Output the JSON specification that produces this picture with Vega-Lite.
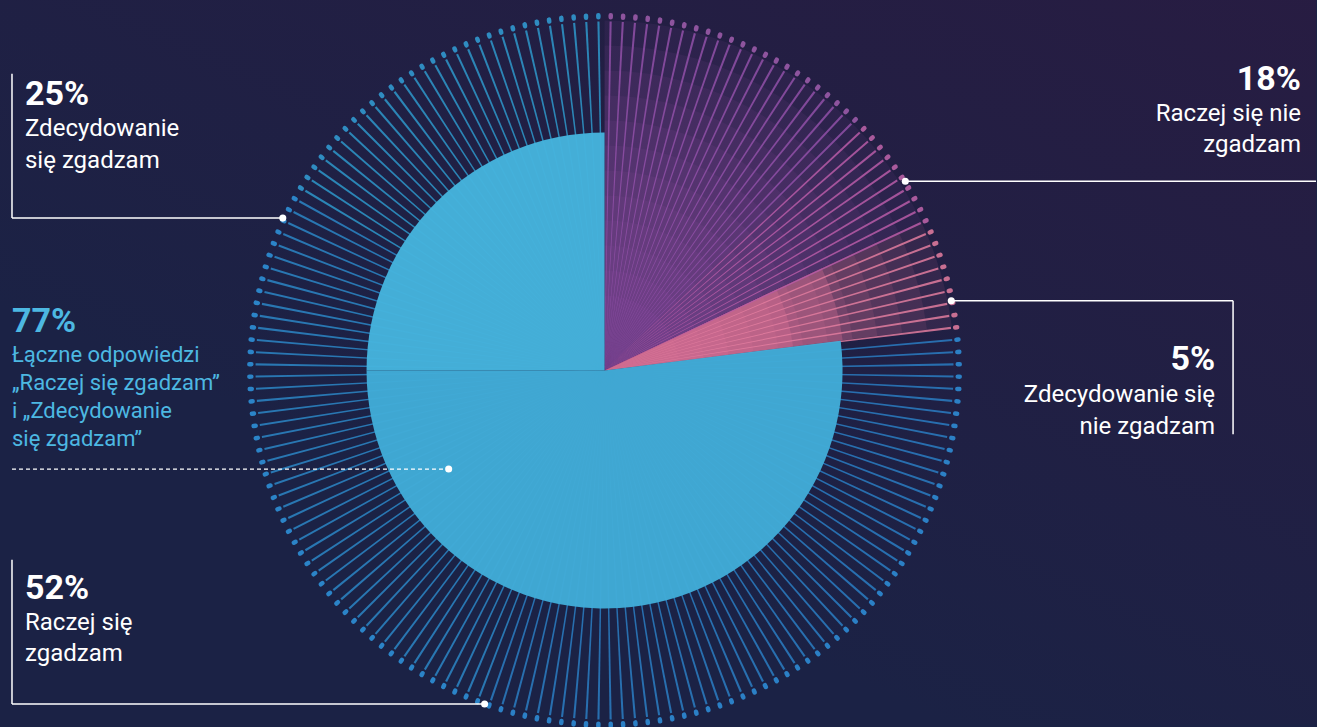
{
  "$schema": "https://vega.github.io/schema/vega-lite/v6.json",
  "width": 1317,
  "height": 727,
  "padding": 0,
  "autosize": {"type": "fit", "contains": "padding"},
  "background": "#1b2245",
  "config": {
    "view": {"stroke": null},
    "axis": {"disable": true},
    "legend": {"disable": true},
    "font": "Roboto"
  },
  "datasets": {
    "slices": [
      {"cat": "Raczej się nie zgadzam", "v": 18, "o": 1},
      {"cat": "Zdecydowanie się nie zgadzam", "v": 5, "o": 2},
      {"cat": "Raczej się zgadzam", "v": 52, "o": 3},
      {"cat": "Zdecydowanie się zgadzam", "v": 25, "o": 4}
    ],
    "rays": [
      {"i":0},{"i":1},{"i":2},{"i":3},{"i":4},{"i":5},{"i":6},{"i":7},{"i":8},{"i":9},
      {"i":10},{"i":11},{"i":12},{"i":13},{"i":14},{"i":15},{"i":16},{"i":17},{"i":18},{"i":19},
      {"i":20},{"i":21},{"i":22},{"i":23},{"i":24},{"i":25},{"i":26},{"i":27},{"i":28},{"i":29},
      {"i":30},{"i":31},{"i":32},{"i":33},{"i":34},{"i":35},{"i":36},{"i":37},{"i":38},{"i":39},
      {"i":40},{"i":41},{"i":42},{"i":43},{"i":44},{"i":45},{"i":46},{"i":47},{"i":48},{"i":49},
      {"i":50},{"i":51},{"i":52},{"i":53},{"i":54},{"i":55},{"i":56},{"i":57},{"i":58},{"i":59},
      {"i":60},{"i":61},{"i":62},{"i":63},{"i":64},{"i":65},{"i":66},{"i":67},{"i":68},{"i":69},
      {"i":70},{"i":71},{"i":72},{"i":73},{"i":74},{"i":75},{"i":76},{"i":77},{"i":78},{"i":79},
      {"i":80},{"i":81},{"i":82},{"i":83},{"i":84},{"i":85},{"i":86},{"i":87},{"i":88},{"i":89},
      {"i":90},{"i":91},{"i":92},{"i":93},{"i":94},{"i":95},{"i":96},{"i":97},{"i":98},{"i":99},
      {"i":100},{"i":101},{"i":102},{"i":103},{"i":104},{"i":105},{"i":106},{"i":107},{"i":108},{"i":109},
      {"i":110},{"i":111},{"i":112},{"i":113},{"i":114},{"i":115},{"i":116},{"i":117},{"i":118},{"i":119},
      {"i":120},{"i":121},{"i":122},{"i":123},{"i":124},{"i":125},{"i":126},{"i":127},{"i":128},{"i":129},
      {"i":130},{"i":131},{"i":132},{"i":133},{"i":134},{"i":135},{"i":136},{"i":137},{"i":138},{"i":139},
      {"i":140},{"i":141},{"i":142},{"i":143},{"i":144},{"i":145},{"i":146},{"i":147},{"i":148},{"i":149},
      {"i":150},{"i":151},{"i":152},{"i":153},{"i":154},{"i":155},{"i":156},{"i":157},{"i":158},{"i":159},
      {"i":160},{"i":161},{"i":162},{"i":163},{"i":164},{"i":165},{"i":166},{"i":167},{"i":168},{"i":169},
      {"i":170},{"i":171},{"i":172},{"i":173},{"i":174},{"i":175},{"i":176},{"i":177},{"i":178},{"i":179}
    ],
    "notes": [
      {"k": "a", "pct": "25%", "txt": "Zdecydowanie\nsię zgadzam"},
      {"k": "t", "pct": "77%", "txt": "Łączne odpowiedzi\n„Raczej się zgadzam”\ni „Zdecydowanie\nsię zgadzam”"},
      {"k": "r", "pct": "52%", "txt": "Raczej się\nzgadzam"},
      {"k": "n", "pct": "18%", "txt": "Raczej się nie\nzgadzam"},
      {"k": "z", "pct": "5%", "txt": "Zdecydowanie się\nnie zgadzam"}
    ]
  },
  "layer": [
    {
      "data": {"values": [{}]},
      "mark": {
        "type": "rect",
        "fill": {
          "gradient": "linear", "x1": 0.4, "y1": 0.75, "x2": 1, "y2": 0,
          "stops": [
            {"offset": 0, "color": "rgba(40,28,66,0)"},
            {"offset": 1, "color": "rgba(40,28,66,0.95)"}
          ]
        }
      },
      "encoding": {
        "x": {"datum": 0, "type": "quantitative", "scale": {"domain": [0, 1317], "nice": false, "zero": false}},
        "x2": {"datum": 1317},
        "y": {"datum": 0, "type": "quantitative", "scale": {"domain": [0, 727], "nice": false, "zero": false, "reverse": true}},
        "y2": {"datum": 727}
      }
    },
    {
      "data": {"name": "slices"},
      "transform": [
        {"stack": "v", "groupby": [], "sort": [{"field": "o", "order": "ascending"}], "as": ["s0", "s1"]},
        {"filter": "datum.o <= 2"}
      ],
      "encoding": {
        "x": {"datum": 605, "type": "quantitative", "scale": {"domain": [0, 1317], "nice": false, "zero": false}},
        "y": {"datum": 372, "type": "quantitative", "scale": {"domain": [0, 727], "nice": false, "zero": false, "reverse": true}},
        "theta": {"field": "s0", "type": "quantitative", "scale": {"domain": [0, 100], "range": [0, 6.283185]}},
        "theta2": {"field": "s1"},
        "fill": {"condition": {"test": "datum.o === 1", "value": "#8a4d9e"}, "value": "#e07599"}
      },
      "layer": [
        {"mark": {"type": "arc", "radius": 350, "radius2": 0, "opacity": 0.1}},
        {"mark": {"type": "arc", "radius": 325, "radius2": 0, "opacity": 0.1}},
        {"mark": {"type": "arc", "radius": 300, "radius2": 0, "opacity": 0.11}},
        {"mark": {"type": "arc", "radius": 275, "radius2": 0, "opacity": 0.11}},
        {"mark": {"type": "arc", "radius": 250, "radius2": 0, "opacity": 0.12}},
        {"mark": {"type": "arc", "radius": 225, "radius2": 0, "opacity": 0.12}},
        {"mark": {"type": "arc", "radius": 200, "radius2": 0, "opacity": 0.13}},
        {"mark": {"type": "arc", "radius": 175, "radius2": 0, "opacity": 0.13}},
        {"mark": {"type": "arc", "radius": 150, "radius2": 0, "opacity": 0.14}},
        {"mark": {"type": "arc", "radius": 125, "radius2": 0, "opacity": 0.14}},
        {"mark": {"type": "arc", "radius": 100, "radius2": 0, "opacity": 0.15}},
        {"mark": {"type": "arc", "radius": 75, "radius2": 0, "opacity": 0.15}},
        {"mark": {"type": "arc", "radius": 240, "radius2": 0, "opacity": 0.3},
         "encoding": {"fill": {"condition": {"test": "datum.o === 2", "value": "#e07599"}, "value": "transparent"}}},
        {"mark": {"type": "arc", "radius": 190, "radius2": 0, "opacity": 0.3},
         "encoding": {"fill": {"condition": {"test": "datum.o === 2", "value": "#e07599"}, "value": "transparent"}}}
      ]
    },
    {
      "data": {"name": "rays"},
      "mark": {"type": "arc", "radius": 349, "radius2": 0, "padAngle": 0.0288, "opacity": 0.85},
      "encoding": {
        "x": {"datum": 605, "type": "quantitative", "scale": {"domain": [0, 1317], "nice": false, "zero": false}},
        "y": {"datum": 372, "type": "quantitative", "scale": {"domain": [0, 727], "nice": false, "zero": false, "reverse": true}},
        "theta": {"aggregate": "count", "type": "quantitative", "stack": true},
        "order": {"field": "i", "type": "quantitative"},
        "detail": {"field": "i", "type": "quantitative"},
        "color": {
          "field": "i", "type": "quantitative", "legend": null,
          "scale": {"type": "threshold", "domain": [23, 33, 42, 100, 150], "range": ["#9050a8", "#b85ca8", "#e27c9f", "#2a7cc2", "#2b86c6", "#2e98ca"]}
        }
      }
    },
    {
      "data": {"name": "rays"},
      "mark": {"type": "arc", "radius": 357.5, "radius2": 351, "padAngle": 0.0157, "cornerRadius": 2.2, "opacity": 0.9},
      "encoding": {
        "x": {"datum": 605, "type": "quantitative", "scale": {"domain": [0, 1317], "nice": false, "zero": false}},
        "y": {"datum": 372, "type": "quantitative", "scale": {"domain": [0, 727], "nice": false, "zero": false, "reverse": true}},
        "theta": {"aggregate": "count", "type": "quantitative", "stack": true},
        "order": {"field": "i", "type": "quantitative"},
        "detail": {"field": "i", "type": "quantitative"},
        "color": {
          "field": "i", "type": "quantitative", "legend": null,
          "scale": {"type": "threshold", "domain": [23, 33, 42, 100, 150], "range": ["#9a5aa8", "#b860a6", "#d9789b", "#2e8bd4", "#2e8fd6", "#3198cf"]}
        }
      }
    },
    {
      "data": {"name": "slices"},
      "transform": [
        {"stack": "v", "groupby": [], "sort": [{"field": "o", "order": "ascending"}], "as": ["s0", "s1"]},
        {"filter": "datum.o >= 3"}
      ],
      "mark": {"type": "arc", "radius": 238, "radius2": 0, "opacity": 0.97},
      "encoding": {
        "x": {"datum": 605, "type": "quantitative", "scale": {"domain": [0, 1317], "nice": false, "zero": false}},
        "y": {"datum": 372, "type": "quantitative", "scale": {"domain": [0, 727], "nice": false, "zero": false, "reverse": true}},
        "theta": {"field": "s0", "type": "quantitative", "scale": {"domain": [0, 100], "range": [0, 6.283185]}},
        "theta2": {"field": "s1"},
        "color": {"field": "cat", "type": "nominal", "legend": null,
          "scale": {"domain": ["Raczej się zgadzam", "Zdecydowanie się zgadzam"], "range": ["#41abd7", "#45b3dc"]}}
      }
    },
    {
      "data": {"name": "notes"},
      "transform": [{"filter": "datum.k === 'a'"}],
      "layer": [
        {"mark": {"type": "text", "align": "left", "baseline": "alphabetic", "fontSize": 34, "fontWeight": "bold", "color": "#ffffff"},
         "encoding": {"x": {"datum": 25, "type": "quantitative", "scale": {"domain": [0, 1317], "nice": false, "zero": false}}, "y": {"datum": 105, "type": "quantitative", "scale": {"domain": [0, 727], "nice": false, "zero": false, "reverse": true}}, "text": {"field": "pct"}}},
        {"mark": {"type": "text", "align": "left", "baseline": "alphabetic", "fontSize": 24, "lineBreak": "\n", "lineHeight": 32, "color": "#ffffff"},
         "encoding": {"x": {"datum": 25, "type": "quantitative", "scale": {"domain": [0, 1317], "nice": false, "zero": false}}, "y": {"datum": 137, "type": "quantitative", "scale": {"domain": [0, 727], "nice": false, "zero": false, "reverse": true}}, "text": {"field": "txt"}}},
        {"mark": {"type": "rule", "color": "#ffffff", "strokeWidth": 1.5},
         "encoding": {"x": {"datum": 12, "type": "quantitative", "scale": {"domain": [0, 1317], "nice": false, "zero": false}}, "y": {"datum": 74, "type": "quantitative", "scale": {"domain": [0, 727], "nice": false, "zero": false, "reverse": true}}, "y2": {"datum": 219}}},
        {"mark": {"type": "rule", "color": "#ffffff", "strokeWidth": 1.5},
         "encoding": {"x": {"datum": 12, "type": "quantitative", "scale": {"domain": [0, 1317], "nice": false, "zero": false}}, "x2": {"datum": 283}, "y": {"datum": 219, "type": "quantitative", "scale": {"domain": [0, 727], "nice": false, "zero": false, "reverse": true}}}},
        {"mark": {"type": "point", "filled": true, "color": "#ffffff", "size": 50, "opacity": 1},
         "encoding": {"x": {"datum": 283, "type": "quantitative", "scale": {"domain": [0, 1317], "nice": false, "zero": false}}, "y": {"datum": 219, "type": "quantitative", "scale": {"domain": [0, 727], "nice": false, "zero": false, "reverse": true}}}}
      ]
    },
    {
      "data": {"name": "notes"},
      "transform": [{"filter": "datum.k === 't'"}],
      "layer": [
        {"mark": {"type": "text", "align": "left", "baseline": "alphabetic", "fontSize": 34, "fontWeight": "bold", "color": "#4db8e2"},
         "encoding": {"x": {"datum": 12, "type": "quantitative", "scale": {"domain": [0, 1317], "nice": false, "zero": false}}, "y": {"datum": 333, "type": "quantitative", "scale": {"domain": [0, 727], "nice": false, "zero": false, "reverse": true}}, "text": {"field": "pct"}}},
        {"mark": {"type": "text", "align": "left", "baseline": "alphabetic", "fontSize": 22, "lineBreak": "\n", "lineHeight": 28, "color": "#4db8e2"},
         "encoding": {"x": {"datum": 12, "type": "quantitative", "scale": {"domain": [0, 1317], "nice": false, "zero": false}}, "y": {"datum": 363, "type": "quantitative", "scale": {"domain": [0, 727], "nice": false, "zero": false, "reverse": true}}, "text": {"field": "txt"}}},
        {"mark": {"type": "rule", "color": "#ffffff", "strokeWidth": 1.2, "strokeDash": [4, 3]},
         "encoding": {"x": {"datum": 12, "type": "quantitative", "scale": {"domain": [0, 1317], "nice": false, "zero": false}}, "x2": {"datum": 449}, "y": {"datum": 471, "type": "quantitative", "scale": {"domain": [0, 727], "nice": false, "zero": false, "reverse": true}}}},
        {"mark": {"type": "point", "filled": true, "color": "#ffffff", "size": 50, "opacity": 1},
         "encoding": {"x": {"datum": 449, "type": "quantitative", "scale": {"domain": [0, 1317], "nice": false, "zero": false}}, "y": {"datum": 471, "type": "quantitative", "scale": {"domain": [0, 727], "nice": false, "zero": false, "reverse": true}}}}
      ]
    },
    {
      "data": {"name": "notes"},
      "transform": [{"filter": "datum.k === 'r'"}],
      "layer": [
        {"mark": {"type": "text", "align": "left", "baseline": "alphabetic", "fontSize": 34, "fontWeight": "bold", "color": "#ffffff"},
         "encoding": {"x": {"datum": 25, "type": "quantitative", "scale": {"domain": [0, 1317], "nice": false, "zero": false}}, "y": {"datum": 601, "type": "quantitative", "scale": {"domain": [0, 727], "nice": false, "zero": false, "reverse": true}}, "text": {"field": "pct"}}},
        {"mark": {"type": "text", "align": "left", "baseline": "alphabetic", "fontSize": 24, "lineBreak": "\n", "lineHeight": 31, "color": "#ffffff"},
         "encoding": {"x": {"datum": 25, "type": "quantitative", "scale": {"domain": [0, 1317], "nice": false, "zero": false}}, "y": {"datum": 633, "type": "quantitative", "scale": {"domain": [0, 727], "nice": false, "zero": false, "reverse": true}}, "text": {"field": "txt"}}},
        {"mark": {"type": "rule", "color": "#ffffff", "strokeWidth": 1.5},
         "encoding": {"x": {"datum": 12, "type": "quantitative", "scale": {"domain": [0, 1317], "nice": false, "zero": false}}, "y": {"datum": 562, "type": "quantitative", "scale": {"domain": [0, 727], "nice": false, "zero": false, "reverse": true}}, "y2": {"datum": 707}}},
        {"mark": {"type": "rule", "color": "#ffffff", "strokeWidth": 1.5},
         "encoding": {"x": {"datum": 12, "type": "quantitative", "scale": {"domain": [0, 1317], "nice": false, "zero": false}}, "x2": {"datum": 485}, "y": {"datum": 707, "type": "quantitative", "scale": {"domain": [0, 727], "nice": false, "zero": false, "reverse": true}}}},
        {"mark": {"type": "point", "filled": true, "color": "#ffffff", "size": 50, "opacity": 1},
         "encoding": {"x": {"datum": 485, "type": "quantitative", "scale": {"domain": [0, 1317], "nice": false, "zero": false}}, "y": {"datum": 707, "type": "quantitative", "scale": {"domain": [0, 727], "nice": false, "zero": false, "reverse": true}}}}
      ]
    },
    {
      "data": {"name": "notes"},
      "transform": [{"filter": "datum.k === 'n'"}],
      "layer": [
        {"mark": {"type": "text", "align": "right", "baseline": "alphabetic", "fontSize": 34, "fontWeight": "bold", "color": "#ffffff"},
         "encoding": {"x": {"datum": 1302, "type": "quantitative", "scale": {"domain": [0, 1317], "nice": false, "zero": false}}, "y": {"datum": 90, "type": "quantitative", "scale": {"domain": [0, 727], "nice": false, "zero": false, "reverse": true}}, "text": {"field": "pct"}}},
        {"mark": {"type": "text", "align": "right", "baseline": "alphabetic", "fontSize": 24, "lineBreak": "\n", "lineHeight": 31, "color": "#ffffff"},
         "encoding": {"x": {"datum": 1302, "type": "quantitative", "scale": {"domain": [0, 1317], "nice": false, "zero": false}}, "y": {"datum": 122, "type": "quantitative", "scale": {"domain": [0, 727], "nice": false, "zero": false, "reverse": true}}, "text": {"field": "txt"}}},
        {"mark": {"type": "rule", "color": "#ffffff", "strokeWidth": 1.5},
         "encoding": {"x": {"datum": 906, "type": "quantitative", "scale": {"domain": [0, 1317], "nice": false, "zero": false}}, "x2": {"datum": 1317}, "y": {"datum": 182, "type": "quantitative", "scale": {"domain": [0, 727], "nice": false, "zero": false, "reverse": true}}}},
        {"mark": {"type": "point", "filled": true, "color": "#ffffff", "size": 50, "opacity": 1},
         "encoding": {"x": {"datum": 906, "type": "quantitative", "scale": {"domain": [0, 1317], "nice": false, "zero": false}}, "y": {"datum": 182, "type": "quantitative", "scale": {"domain": [0, 727], "nice": false, "zero": false, "reverse": true}}}}
      ]
    },
    {
      "data": {"name": "notes"},
      "transform": [{"filter": "datum.k === 'z'"}],
      "layer": [
        {"mark": {"type": "text", "align": "right", "baseline": "alphabetic", "fontSize": 34, "fontWeight": "bold", "color": "#ffffff"},
         "encoding": {"x": {"datum": 1216, "type": "quantitative", "scale": {"domain": [0, 1317], "nice": false, "zero": false}}, "y": {"datum": 372, "type": "quantitative", "scale": {"domain": [0, 727], "nice": false, "zero": false, "reverse": true}}, "text": {"field": "pct"}}},
        {"mark": {"type": "text", "align": "right", "baseline": "alphabetic", "fontSize": 24, "lineBreak": "\n", "lineHeight": 32, "color": "#ffffff"},
         "encoding": {"x": {"datum": 1216, "type": "quantitative", "scale": {"domain": [0, 1317], "nice": false, "zero": false}}, "y": {"datum": 404, "type": "quantitative", "scale": {"domain": [0, 727], "nice": false, "zero": false, "reverse": true}}, "text": {"field": "txt"}}},
        {"mark": {"type": "rule", "color": "#ffffff", "strokeWidth": 1.5},
         "encoding": {"x": {"datum": 952, "type": "quantitative", "scale": {"domain": [0, 1317], "nice": false, "zero": false}}, "x2": {"datum": 1234}, "y": {"datum": 302, "type": "quantitative", "scale": {"domain": [0, 727], "nice": false, "zero": false, "reverse": true}}}},
        {"mark": {"type": "rule", "color": "#ffffff", "strokeWidth": 1.5},
         "encoding": {"x": {"datum": 1234, "type": "quantitative", "scale": {"domain": [0, 1317], "nice": false, "zero": false}}, "y": {"datum": 302, "type": "quantitative", "scale": {"domain": [0, 727], "nice": false, "zero": false, "reverse": true}}, "y2": {"datum": 436}}},
        {"mark": {"type": "point", "filled": true, "color": "#ffffff", "size": 50, "opacity": 1},
         "encoding": {"x": {"datum": 952, "type": "quantitative", "scale": {"domain": [0, 1317], "nice": false, "zero": false}}, "y": {"datum": 302, "type": "quantitative", "scale": {"domain": [0, 727], "nice": false, "zero": false, "reverse": true}}}}
      ]
    }
  ],
  "resolve": {"scale": {"theta": "independent", "color": "independent"}}
}
